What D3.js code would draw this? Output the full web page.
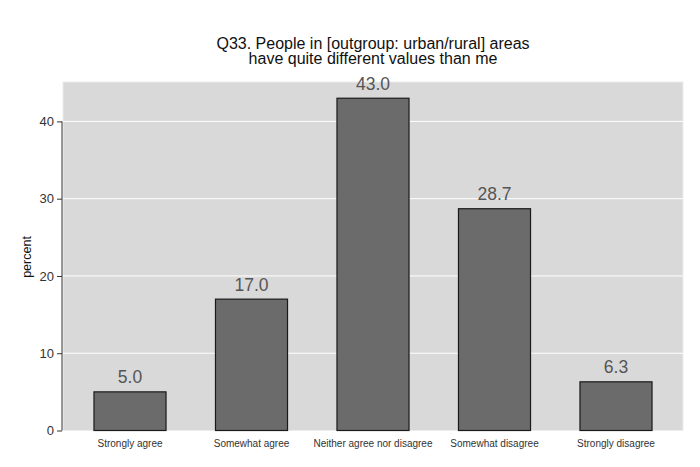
<!DOCTYPE html>
<html>
<head>
<meta charset="utf-8">
<script src="https://cdn.jsdelivr.net/npm/d3@7"></script>
<style>
body{margin:0;background:#fff;}
text{font-family:"Liberation Sans",Arial,Helvetica,sans-serif;}
</style>
</head>
<body>
<div id="chart"></div>
<script>
var categories=['Strongly agree','Somewhat agree','Neither agree nor disagree','Somewhat disagree','Strongly disagree'];
var values=[5.0,17.0,43.0,28.7,6.3];
var yTicks=[0,10,20,30,40];
var titleLines=['Q33. People in [outgroup: urban/rural] areas','have quite different values than me'];

var width=700,height=467;
// note: "top" is taken by window.top, so plot edges get their own names
var plotLeft=63,plotRight=683,plotTop=82,plotBottom=430.5;

var svg=d3.select('#chart').append('svg')
    .attr('width',width)
    .attr('height',height);

var x=d3.scaleBand()
    .domain(categories)
    .range([plotLeft,plotRight])
    .paddingInner(0.407)
    .paddingOuter(0.255);

var y=d3.scaleLinear()
    .domain([0,45.1])
    .range([plotBottom,plotTop]);

// plot background
svg.append('rect')
    .attr('x',plotLeft)
    .attr('y',plotTop)
    .attr('width',plotRight-plotLeft)
    .attr('height',plotBottom-plotTop)
    .style('fill','#d9d9d9')
    .style('stroke','#ececec')
    .style('stroke-width',1);

// gridlines
svg.selectAll('line.grid').data(yTicks.filter(function(d){return d>0;})).enter()
    .append('line')
    .attr('class','grid')
    .attr('x1',plotLeft)
    .attr('x2',plotRight)
    .attr('y1',function(d){return y(d);})
    .attr('y2',function(d){return y(d);})
    .style('stroke','#fff')
    .style('stroke-width',1);

// bars
svg.selectAll('rect.bar').data(values).enter()
    .append('rect')
    .attr('class','bar')
    .attr('x',function(d,i){return x(categories[i]);})
    .attr('y',function(d){return y(d);})
    .attr('width',x.bandwidth())
    .attr('height',function(d){return y(0)-y(d);})
    .style('fill','#6b6b6b')
    .style('stroke','#1a1a1a')
    .style('stroke-width',1.2);

// value labels
svg.selectAll('text.val').data(values).enter()
    .append('text')
    .attr('class','val')
    .attr('text-anchor','middle')
    .attr('x',function(d,i){return x(categories[i])+x.bandwidth()/2;})
    .attr('y',function(d){return y(d)-8.5;})
    .style('font-size','17.5px')
    .style('fill','#555')
    .text(function(d){return d.toFixed(1);});

// y axis
var yAxis=d3.axisLeft(y)
    .tickValues(yTicks)
    .tickSize(5)
    .tickPadding(3)
    .tickFormat(d3.format('d'));
var ya=svg.append('g')
    .attr('transform','translate('+(plotLeft-1)+',0)')
    .call(yAxis);
ya.select('.domain')
    .attr('d','M0,'+y(40)+'V'+y(0))
    .style('stroke','#333');
ya.selectAll('.tick line').style('stroke','#333');
ya.selectAll('.tick text')
    .style('font-size','13px')
    .style('fill','#333')
    .style('font-family','"Liberation Sans",Arial,sans-serif');

// x labels
var xAxis=d3.axisBottom(x).tickSize(0).tickPadding(9);
var xa=svg.append('g')
    .attr('transform','translate(0,'+plotBottom+')')
    .call(xAxis);
xa.select('.domain').remove();
xa.selectAll('.tick text')
    .style('font-size','10px')
    .style('fill','#333')
    .style('font-family','"Liberation Sans",Arial,sans-serif');

// y title
svg.append('text')
    .attr('transform','translate(31,257) rotate(-90)')
    .attr('text-anchor','middle')
    .style('font-size','12.5px')
    .style('fill','#111')
    .text('percent');

// title
svg.selectAll('text.title').data(titleLines).enter()
    .append('text')
    .attr('class','title')
    .attr('text-anchor','middle')
    .attr('x',(plotLeft+plotRight)/2)
    .attr('y',function(d,i){return 48.5+i*15;})
    .style('font-size','16px')
    .style('fill','#111')
    .text(function(d){return d;});
</script>
</body>
</html>
